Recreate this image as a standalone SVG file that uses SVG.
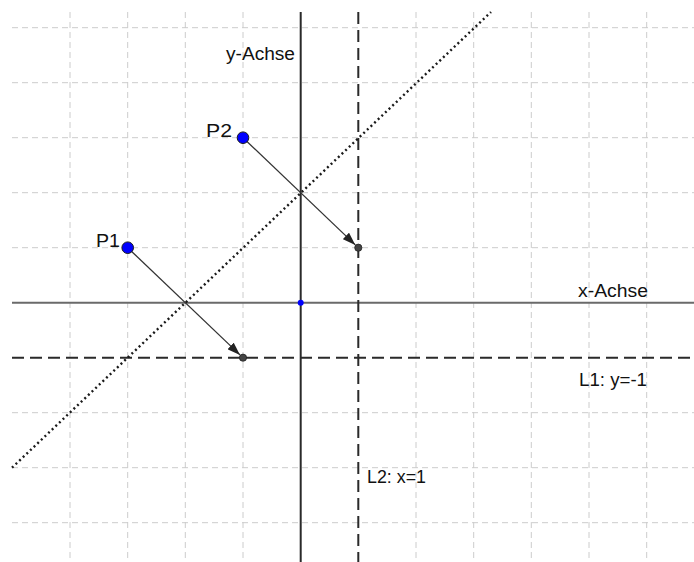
<svg xmlns="http://www.w3.org/2000/svg" width="694" height="562" viewBox="0 0 694 562">
<style>
.grid line{stroke:#cccccc;stroke-width:1;stroke-dasharray:6 4}
.lbl{font-family:"Liberation Sans",Arial,sans-serif;font-size:17.5px;fill:#111}
.dl{stroke:#2a2a2a;stroke-width:2;stroke-dasharray:12 6;fill:none}
.vec{stroke:#333;stroke-width:1.3;fill:none;marker-end:url(#ah)}
.pt{fill:#0000ff;stroke:#1a1a1a;stroke-width:1}
.end{fill:#444;stroke:#222;stroke-width:0.8}
</style>
<defs>
<marker id="ah" viewBox="0 0 13 9" refX="13" refY="4.5" markerWidth="13" markerHeight="9" markerUnits="userSpaceOnUse" orient="auto">
<path d="M0,0 L13,4.5 L0,9 Z" fill="#222"/>
</marker>
</defs>
<rect width="694" height="562" fill="#fff"/>
<g id="grid" class="grid">
<line x1="70" y1="12" x2="70" y2="562"/>
<line x1="127.7" y1="12" x2="127.7" y2="562"/>
<line x1="185.3" y1="12" x2="185.3" y2="562"/>
<line x1="243" y1="12" x2="243" y2="562"/>
<line x1="416" y1="12" x2="416" y2="562"/>
<line x1="473.7" y1="12" x2="473.7" y2="562"/>
<line x1="531.3" y1="12" x2="531.3" y2="562"/>
<line x1="589" y1="12" x2="589" y2="562"/>
<line x1="646.7" y1="12" x2="646.7" y2="562"/>
<line x1="12" y1="27.7" x2="694" y2="27.7"/>
<line x1="12" y1="82.7" x2="694" y2="82.7"/>
<line x1="12" y1="137.7" x2="694" y2="137.7"/>
<line x1="12" y1="192.7" x2="694" y2="192.7"/>
<line x1="12" y1="247.7" x2="694" y2="247.7"/>
<line x1="12" y1="412.7" x2="694" y2="412.7"/>
<line x1="12" y1="467.7" x2="694" y2="467.7"/>
<line x1="12" y1="522.7" x2="694" y2="522.7"/>
</g>
<g id="connectors">
<line id="x-axis" x1="12" y1="302.7" x2="694" y2="302.7" stroke="#6a6a6a" stroke-width="2"/>
<line id="y-axis" x1="300.7" y1="12" x2="300.7" y2="562" stroke="#2a2a2a" stroke-width="2"/>
<line id="L1" class="dl" x1="12" y1="357.7" x2="694" y2="357.7"/>
<line id="L2" class="dl" x1="358.3" y1="12" x2="358.3" y2="562"/>
<line id="mirror" x1="12" y1="467.7" x2="491" y2="12" stroke="#1a1a1a" stroke-width="2.4" stroke-dasharray="2 3"/>
<line id="v1" class="vec" x1="127.7" y1="247.7" x2="240" y2="354.9"/>
<line id="v2" class="vec" x1="243" y1="137.7" x2="355.3" y2="244.9"/>
</g>
<g id="origin"><circle cx="300.7" cy="302.7" r="3" fill="#0000ff"/></g>
<g id="P1"><circle class="pt" cx="127.7" cy="247.7" r="5.8"/><text class="lbl" x="96" y="247" textLength="24" lengthAdjust="spacingAndGlyphs" style="font-size:18.5px">P1</text></g>
<g id="P2"><circle class="pt" cx="243" cy="137.7" r="5.8"/><text class="lbl" x="206" y="137" textLength="26" lengthAdjust="spacingAndGlyphs" style="font-size:18.5px">P2</text></g>
<g id="P1img"><circle class="end" cx="243" cy="357.7" r="3.6"/></g>
<g id="P2img"><circle class="end" cx="358.3" cy="247.7" r="3.6"/></g>
<g id="labels">
<text class="lbl" x="226" y="60" textLength="69" lengthAdjust="spacingAndGlyphs">y-Achse</text>
<text class="lbl" x="578" y="297" textLength="70" lengthAdjust="spacingAndGlyphs">x-Achse</text>
<text class="lbl" x="579" y="386" textLength="68" lengthAdjust="spacingAndGlyphs">L1: y=-1</text>
<text class="lbl" x="367" y="483" textLength="59" lengthAdjust="spacingAndGlyphs">L2: x=1</text>
</g>
</svg>
